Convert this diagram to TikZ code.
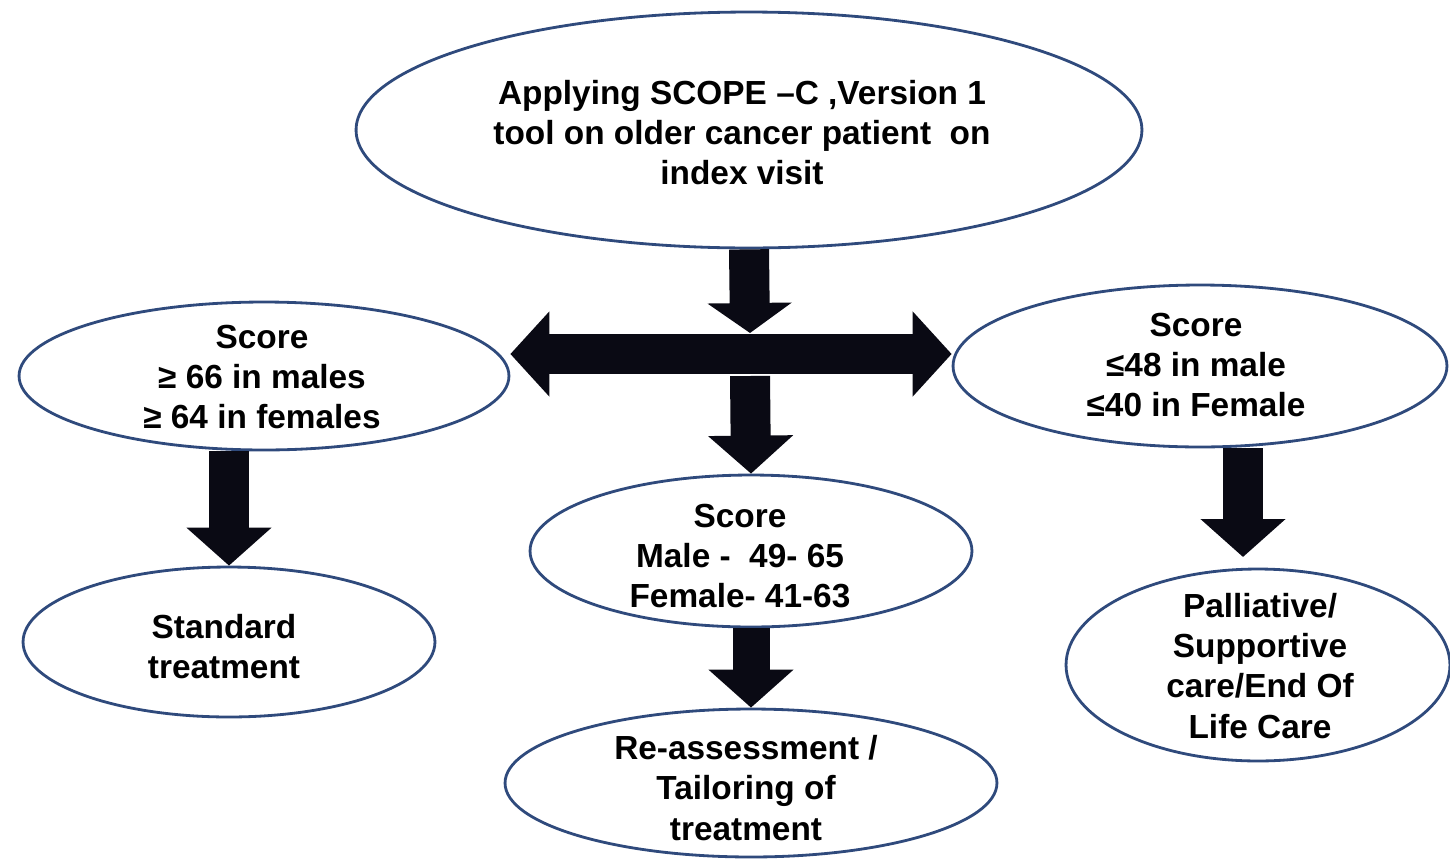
\documentclass[tikz,border=0pt]{standalone}
\usepackage{fontspec}
\setmainfont{Liberation Sans}
\usetikzlibrary{shapes.geometric,arrows.meta}
\definecolor{ovalblue}{RGB}{47,74,124}
\definecolor{arrowblack}{RGB}{10,10,20}
\tikzset{
  oval/.style={ellipse, draw=ovalblue, line width=1.6pt, inner sep=0pt},
  ovaltext/.style={align=center, inner sep=0pt, font=\fontsize{19}{22.8}\selectfont\bfseries},
  blockarrow/.style={arrowblack, line width=0.8cm, -{Triangle[width=1.66cm,length=0.76cm]}},
}
\begin{document}
\begin{tikzpicture}[x=0.02cm,y=-0.02cm]
  \useasboundingbox (0,0) rectangle (1450,859);
  % ovals
  \node[oval, minimum width=15.72cm, minimum height=4.72cm] (scope) at (749,130) {};
  \node[oval, minimum width=9.8cm, minimum height=2.96cm] (high) at (264,376) {};
  \node[oval, minimum width=9.88cm, minimum height=3.24cm] (low) at (1200,366) {};
  \node[oval, minimum width=8.84cm, minimum height=3.04cm] (mid) at (751,551) {};
  \node[oval, minimum width=8.24cm, minimum height=3.0cm] (std) at (229,642) {};
  \node[oval, minimum width=9.84cm, minimum height=2.96cm] (reass) at (751,783) {};
  \node[oval, minimum width=7.68cm, minimum height=3.84cm] (pall) at (1258,665) {};
  % texts
  \node[ovaltext] (scope-t) at (742,133) {Applying SCOPE –C ,Version 1\\tool on older cancer patient\ \ on\\index visit};
  \node[ovaltext] (high-t) at (262,377) {Score\\≥ 66 in males\\ ≥ 64 in females};
  \node[ovaltext] (low-t) at (1196,365) {Score\\≤48 in male\\≤40 in Female};
  \node[ovaltext] (mid-t) at (740,556) {Score\\Male -\ \ 49- 65\\Female- 41-63};
  \node[ovaltext] (std-t) at (224,647) {Standard\\treatment};
  \node[ovaltext] (reass-t) at (746,788) {Re-assessment /\\Tailoring of\\treatment};
  \node[ovaltext] (pall-t) at (1260,666) {Palliative/\\Supportive\\care/End Of\\Life Care};
  % block arrows
  \coordinate (hub) at (750,354);
  \coordinate (bartop) at (750,333);
  \coordinate (barbot) at (750,376);
  \coordinate (pall-in) at (1243,557);
  \draw[blockarrow, -{Triangle[width=1.66cm,length=0.6cm]}] (scope.south) -- (bartop);
  \draw[blockarrow, {Triangle[width=1.66cm,length=0.78cm]}-{Triangle[width=1.66cm,length=0.78cm]}]
    (high.east |- hub) -- (low.west |- hub);
  \draw[blockarrow] (barbot) -- (mid.north);
  \draw[blockarrow] (high.south -| std.north) -- (std.north);
  \draw[blockarrow] (low.south -| pall-in) -- (pall-in);
  \draw[blockarrow, line width=0.74cm] (mid.south) -- (reass.north);
\end{tikzpicture}
\end{document}
